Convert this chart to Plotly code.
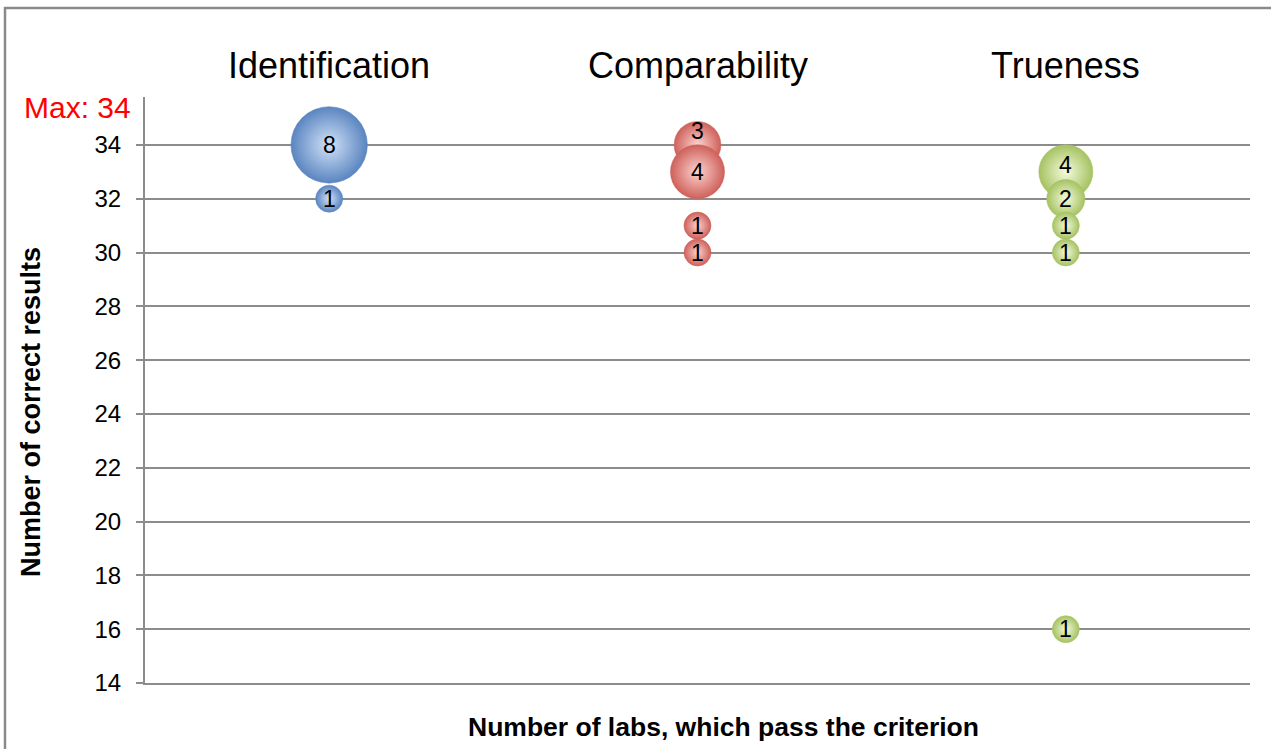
import plotly.graph_objects as go

# ---- data ----
categories = ["Identification", "Comparability", "Trueness"]
cat_pos = [1, 2, 3]
ident_y = [34, 32]
ident_n = [8, 1]
comp_y = [34, 33, 31, 30]
comp_n = [3, 4, 1, 1]
true_y = [33, 32, 31, 30, 16]
true_n = [4, 2, 1, 1, 1]
y_ticks = [14, 16, 18, 20, 22, 24, 26, 28, 30, 32, 34]
max_label = "Max: 34"

# ---- styles ----
# (y, n, edge colour, centre colour)
series = [
    (ident_y, ident_n, "#5a85c0", "#d2e2f8"),
    (comp_y, comp_n, "#cf605b", "#fcd3ce"),
    (true_y, true_n, "#a5c262", "#f5fbdc"),
]
label_shift = {(1, 0): 14, (2, 0): 7}
SIZEREF = 4.29 / (2 * 28 ** 2)
FONT = "Liberation Sans, Arial"

fig = go.Figure()
annotations = []
for si, (ys, ns, c_edge, c_mid) in enumerate(series):
    xs = [cat_pos[si]] * len(ys)
    fig.add_trace(go.Scatter(
        x=xs, y=ys, mode="markers",
        marker=dict(size=ns, sizemode="area", sizeref=SIZEREF,
                    color=c_edge, gradient=dict(type="radial", color=c_mid),
                    line=dict(width=0.5, color=c_edge), opacity=1),
        showlegend=False, hoverinfo="skip"))
    for pi, (yv, nv) in enumerate(zip(ys, ns)):
        annotations.append(dict(
            x=xs[pi], y=yv, xref="x", yref="y", text=str(nv), showarrow=False,
            yshift=label_shift.get((si, pi), 0), xanchor="center", yanchor="middle",
            font=dict(family=FONT, size=23, color="black")))

L, R, T, B = 145, 21, 97, 66
W, H = 1271, 749
ph = H - T - B
pw = W - L - R

def py(pix):
    return (H - B - pix) / ph

def px(pix):
    return (pix - L) / pw

for ci, cname in enumerate(categories):
    annotations.append(dict(
        x=cat_pos[ci], y=py(65), xref="x", yref="paper", text=cname, showarrow=False,
        xanchor="center", yanchor="middle",
        font=dict(family=FONT, size=36, color="black")))

annotations.append(dict(x=px(77), y=py(108), xref="paper", yref="paper",
                        text=max_label, showarrow=False, xanchor="center", yanchor="middle",
                        font=dict(family=FONT, size=30, color="#ff0000")))
annotations.append(dict(x=px(723), y=py(727), xref="paper", yref="paper",
                        text="<b>Number of labs, which pass the criterion</b>", showarrow=False,
                        xanchor="center", yanchor="middle",
                        font=dict(family=FONT, size=26.5, color="black")))
annotations.append(dict(x=px(31), y=py(412), xref="paper", yref="paper",
                        text="<b>Number of correct results</b>", showarrow=False, textangle=-90,
                        xanchor="center", yanchor="middle",
                        font=dict(family=FONT, size=27, color="black")))

shapes = [
    dict(type="line", xref="paper", yref="paper", x0=px(4), x1=px(1275), y0=py(8), y1=py(8),
         line=dict(color="#8a8a8a", width=2.5)),
    dict(type="line", xref="paper", yref="paper", x0=px(5), x1=px(5), y0=py(7), y1=py(760),
         line=dict(color="#8a8a8a", width=2.5)),
]

fig.update_layout(
    width=W, height=H,
    margin=dict(l=L, r=R, t=T, b=B),
    plot_bgcolor="white", paper_bgcolor="white",
    annotations=annotations, shapes=shapes,
    xaxis=dict(range=[0.5, 3.5], showticklabels=False, showgrid=False, zeroline=False,
               showline=True, linecolor="#8c8c8c", linewidth=2, ticks=""),
    yaxis=dict(range=[14, 35.78], tickvals=y_ticks, showgrid=True, gridcolor="#8c8c8c",
               gridwidth=2, zeroline=False, showline=True, linecolor="#8c8c8c", linewidth=2,
               ticks="outside", ticklen=7, tickcolor="#8c8c8c", tickwidth=2,
               tickfont=dict(family=FONT, size=24, color="black"),
               ticklabelstandoff=10),
)

fig.write_html("out.html", config={"displayModeBar": False},
               post_script="document.body.style.margin='0';document.body.style.overflow='hidden';")
